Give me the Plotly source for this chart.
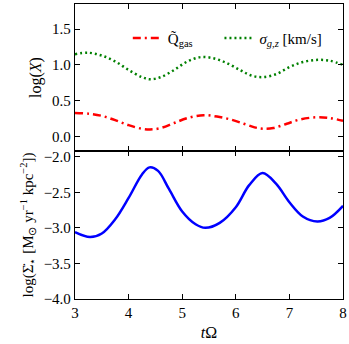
import plotly.graph_objects as go
from plotly.subplots import make_subplots

# ---- data ----
t_sig = [3.0, 3.25, 3.5, 3.75, 4.0, 4.25, 4.4, 4.6, 4.85, 5.1, 5.35, 5.6, 5.85, 6.1, 6.3, 6.5, 6.75, 7.0, 7.25, 7.5, 7.75, 8.0]
sigma = [1.15, 1.17, 1.13, 1.05, 0.93, 0.83, 0.80, 0.83, 0.93, 1.05, 1.11, 1.09, 1.02, 0.92, 0.85, 0.83, 0.87, 0.97, 1.04, 1.07, 1.06, 1.00]

t_q = [3.0, 3.25, 3.5, 3.75, 4.0, 4.25, 4.4, 4.6, 4.85, 5.1, 5.4, 5.65, 5.9, 6.15, 6.35, 6.5, 6.7, 6.95, 7.2, 7.5, 7.75, 8.0]
qgas = [0.33, 0.32, 0.29, 0.23, 0.16, 0.11, 0.10, 0.12, 0.19, 0.26, 0.30, 0.28, 0.24, 0.18, 0.13, 0.11, 0.12, 0.18, 0.24, 0.27, 0.26, 0.22]

t_sfr = [3.0, 3.28, 3.5, 3.75, 4.0, 4.25, 4.39, 4.55, 4.75, 5.0, 5.25, 5.43, 5.7, 6.0, 6.25, 6.5, 6.75, 7.0, 7.25, 7.52, 7.75, 8.0]
sfr = [-3.06, -3.13, -3.08, -2.88, -2.58, -2.25, -2.15, -2.20, -2.45, -2.77, -2.95, -3.00, -2.93, -2.71, -2.40, -2.23, -2.38, -2.64, -2.84, -2.91, -2.86, -2.69]

x_ticks = [3, 4, 5, 6, 7, 8]
top_ticks = [0.0, 0.5, 1.0, 1.5]
bot_ticks = [-4.0, -3.5, -3.0, -2.5, -2.0]

FONT = "Liberation Serif"

fig = make_subplots(rows=2, cols=1, shared_xaxes=True, vertical_spacing=0)

fig.add_trace(go.Scatter(x=t_q, y=qgas, mode="lines", name="Q\u0303<sub>gas</sub>", legend="legend",
                         line=dict(color="#ff0000", width=2.5, dash="8px,4px,2px,4px", shape="spline", smoothing=1.0)),
              row=1, col=1)
fig.add_trace(go.Scatter(x=t_sig, y=sigma, mode="lines", name="<i>σ<sub>g,z</sub></i> [km/s]", legend="legend2",
                         line=dict(color="#008000", width=2.5, dash="2px,3px", shape="spline", smoothing=1.0)),
              row=1, col=1)
fig.add_trace(go.Scatter(x=t_sfr, y=sfr, mode="lines", showlegend=False,
                         line=dict(color="#0000ff", width=2.5, shape="spline", smoothing=1.0)),
              row=2, col=1)

axis_common = dict(showline=True, linecolor="black", linewidth=1.3, mirror="allticks",
                   ticks="inside", ticklen=5, tickwidth=1, tickcolor="black",
                   showgrid=False, zeroline=False,
                   tickfont=dict(family=FONT, size=15, color="black"))

fig.update_xaxes(**axis_common, range=[3, 8], tickvals=x_ticks)
fig.update_xaxes(showticklabels=False, row=1, col=1)
fig.update_xaxes(title=dict(text="<i>t</i>Ω", font=dict(family=FONT, size=16, color="black"), standoff=6),
                 ticktext=[str(v) for v in x_ticks], row=2, col=1)

fig.update_yaxes(**axis_common)
fig.update_yaxes(range=[-0.2, 1.85], tickvals=top_ticks, ticktext=[f"{v:.1f}" for v in top_ticks],
                 title=dict(text="log(<i>X</i>)", font=dict(family=FONT, size=16, color="black"), standoff=6),
                 row=1, col=1)
fig.update_yaxes(range=[-4.0, -1.92], tickvals=bot_ticks,
                 ticktext=[f"{v:.1f}".replace("-", "−") for v in bot_ticks],
                 title=dict(text="log(Σ\u0307<sub>⋆</sub> [M<sub>⊙</sub> yr<sup>−1</sup> kpc<sup>−2</sup>])",
                            font=dict(family=FONT, size=15, color="black"), standoff=6),
                 row=2, col=1)

legend_style = dict(orientation="h", y=0.94, xanchor="left", yanchor="top",
                    bgcolor="rgba(0,0,0,0)", font=dict(family=FONT, size=15, color="black"),
                    itemwidth=30)

fig.update_layout(
    width=349, height=344,
    margin=dict(l=75, r=5, t=2, b=45),
    paper_bgcolor="white", plot_bgcolor="white",
    font=dict(family=FONT, size=15, color="black"),
    legend=dict(x=0.197, **legend_style),
    legend2=dict(x=0.539, **legend_style),
    showlegend=True,
)
fig.layout.yaxis.domain = [0.5017, 1.0]
fig.layout.yaxis2.domain = [0.0, 0.5017]

fig.write_html("out.html", config={"displayModeBar": False},
               post_script="document.body.style.margin='0';document.body.style.overflow='hidden';")
